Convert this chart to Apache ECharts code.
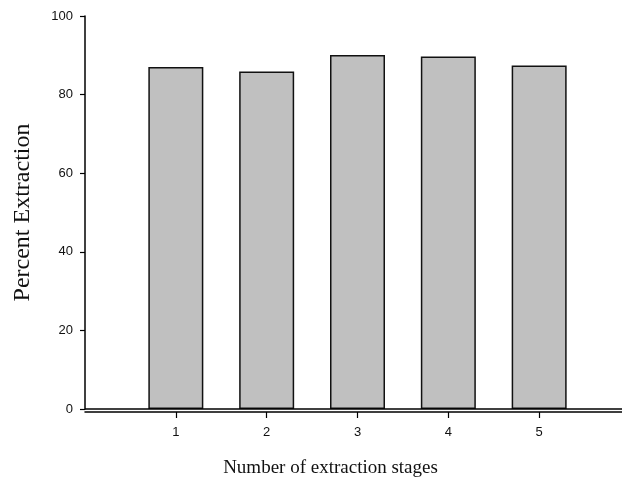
<!DOCTYPE html>
<html>
<head>
<meta charset="utf-8">
<script src="https://cdn.jsdelivr.net/npm/echarts@6/dist/echarts.min.js"></script>
<style>
  html, body { margin: 0; padding: 0; background: #fff; }
  #chart { width: 622px; height: 481px; }
</style>
</head>
<body>
<div id="chart"></div>
<script>
// Extraction efficiency per number of stages
const stages = [1, 2, 3, 4, 5];
const percentExtraction = [87.0, 85.9, 90.1, 89.7, 87.4];
const yTicks = [0, 20, 40, 60, 80, 100];

const chart = echarts.init(document.getElementById('chart'));
const labelFont = { fontFamily: 'Liberation Sans, Arial, sans-serif', fontSize: 13, color: '#111' };
const serif = 'Liberation Serif, Times New Roman, serif';

chart.setOption({
  animation: false,
  grid: { left: 85, top: 16, bottom: 72, right: -8, containLabel: false, outerBoundsMode: 'none' },
  xAxis: {
    type: 'value', min: 0, max: 6, interval: 1, position: 'bottom', offset: 3,
    axisLine: { onZero: false, lineStyle: { color: '#000', width: 1.5 } },
    axisTick: { show: true, length: 6, customValues: stages, lineStyle: { color: '#000', width: 1.2 } },
    axisLabel: Object.assign({
      margin: 14,
      formatter: v => (stages.includes(v) ? String(v) : '')
    }, labelFont),
    splitLine: { show: false },
    name: 'Number of extraction stages', nameLocation: 'middle', nameGap: 47,
    nameTextStyle: { fontFamily: serif, fontSize: 19, color: '#111', padding: [0, 54, 0, 0] }
  },
  yAxis: {
    type: 'value', min: yTicks[0], max: yTicks[yTicks.length - 1], interval: 20,
    axisLine: { show: true, lineStyle: { color: '#000', width: 1.5 } },
    axisTick: { show: true, length: 5, lineStyle: { color: '#000', width: 1.2 } },
    axisLabel: Object.assign({ margin: 12 }, labelFont),
    splitLine: { show: false },
    name: 'Percent Extraction', nameLocation: 'middle', nameGap: 50,
    nameTextStyle: { fontFamily: serif, fontSize: 24, color: '#111' }
  },
  series: [{
    type: 'bar',
    barWidth: 55,
    data: stages.map((s, i) => [s, percentExtraction[i]]),
    itemStyle: { color: '#c0c0c0', borderColor: '#111', borderWidth: 1.5 },
    // baseline drawn along y = 0, just above the offset x axis
    markLine: {
      silent: true, symbol: 'none', label: { show: false },
      lineStyle: { color: '#000', width: 1.5, type: 'solid' },
      data: [{ yAxis: 0 }]
    }
  }]
});
</script>
</body>
</html>
